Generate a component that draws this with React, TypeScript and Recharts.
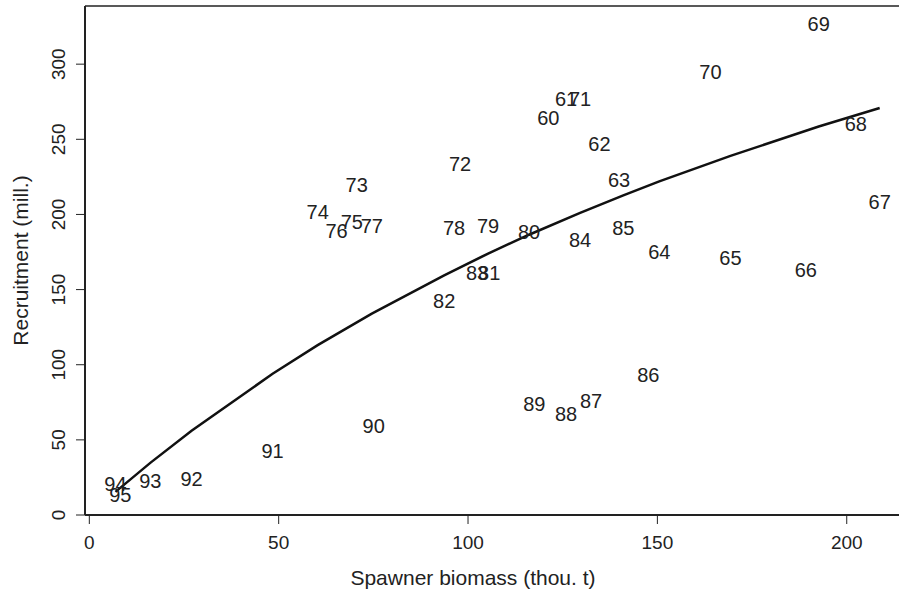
import { ScatterChart, Scatter, XAxis, YAxis, ReferenceLine } from "recharts";

const years = [
  60, 61, 62, 63, 64, 65, 66, 67, 68, 69, 70, 71, 72, 73, 74, 75, 76, 77,
  78, 79, 80, 81, 82, 83, 84, 85, 86, 87, 88, 89, 90, 91, 92, 93, 94, 95,
];
const spawner = [
  121.2, 125.9, 134.7, 139.9, 150.5, 169.3, 189.2, 208.7, 202.4, 192.6, 164, 129.6,
  97.9, 70.6, 60.3, 69.3, 65.3, 74.6, 96.3, 105.3, 116.1, 105.6, 93.7, 102.4,
  129.6, 141, 147.6, 132.5, 125.9, 117.5, 75.1, 48.4, 27, 16.1, 6.9, 8.2,
];
const recruitment = [
  264, 276.7, 246.7, 222.7, 175.3, 171.3, 162.7, 208, 260, 326.7, 294.7, 276.7,
  233.3, 219.3, 201.3, 194.7, 189.3, 192, 190.7, 192, 188, 160.7, 142.7, 160.7,
  183.3, 190.7, 93.3, 76, 67.3, 74, 59.3, 42.7, 24, 22.7, 20.7, 13.3,
];

const fitS = [6.9, 16.1, 27, 48.4, 60.3, 74.6, 93.7, 105.3, 116.1, 129.6, 141, 150.5, 169.3, 192.6, 208.7];
const fitR = [15.4, 34.7, 56, 94, 113, 134, 159.5, 174, 186.5, 201, 212.7, 222, 239, 258.5, 270.8];

const xTicks = [0, 50, 100, 150, 200];
const yTicks = [0, 50, 100, 150, 200, 250, 300];

const points = years.map((y, i) => ({ s: spawner[i], r: recruitment[i], year: y }));
const curve = fitS.map((s, i) => ({ s, r: fitR[i] }));

const FONT = "'Liberation Sans', Arial, Helvetica, sans-serif";
const INK = "#222";
const Y_MAX = 338.7;

const XTick = ({ x, y, payload }: any) => (
  <text x={x} y={y + 23} textAnchor="middle" fontSize={19} fontFamily={FONT} fill={INK}>
    {payload.value}
  </text>
);

const YTick = ({ x, y, payload }: any) => (
  <text
    x={x - 9}
    y={y}
    textAnchor="middle"
    fontSize={19}
    fontFamily={FONT}
    fill={INK}
    transform={`rotate(-90, ${x - 9}, ${y})`}
  >
    {payload.value}
  </text>
);

const YearLabel = (props: any) => (
  <text
    x={props.cx}
    y={props.cy + 7}
    textAnchor="middle"
    fontSize={20}
    fontFamily={FONT}
    fill={INK}
  >
    {props.payload.year}
  </text>
);

export default function App() {
  return (
    <div style={{ position: "absolute", left: 0, top: 0, background: "#fff" }}>
      <ScatterChart width={899} height={590} margin={{ top: 6, right: 0, left: 0, bottom: 0 }}>
        <XAxis
          type="number"
          dataKey="s"
          domain={[-1.14, 213.8]}
          ticks={xTicks}
          allowDataOverflow
          height={75}
          tickSize={9}
          tickMargin={2}
          tick={<XTick />}
          axisLine={{ stroke: INK, strokeWidth: 2 }}
          tickLine={{ stroke: INK, strokeWidth: 1 }}
          label={{
            content: ({ viewBox }: any) => (
              <text
                x={viewBox.x + 388}
                y={viewBox.y + 70}
                textAnchor="middle"
                fontSize={21}
                fontFamily={FONT}
                fill={INK}
              >
                Spawner biomass (thou. t)
              </text>
            ),
          }}
        />
        <YAxis
          type="number"
          dataKey="r"
          domain={[0, Y_MAX]}
          ticks={yTicks}
          allowDataOverflow
          width={85}
          tickSize={9}
          tickMargin={2}
          tick={<YTick />}
          axisLine={{ stroke: INK, strokeWidth: 2 }}
          tickLine={{ stroke: INK, strokeWidth: 1 }}
          label={{
            content: ({ viewBox }: any) => {
              const cx = 28;
              const cy = viewBox.y + viewBox.height / 2;
              return (
                <text
                  x={cx}
                  y={cy}
                  textAnchor="middle"
                  fontSize={21}
                  fontFamily={FONT}
                  fill={INK}
                  transform={`rotate(-90, ${cx}, ${cy})`}
                >
                  Recruitment (mill.)
                </text>
              );
            },
          }}
        />
        <ReferenceLine y={Y_MAX} stroke={INK} strokeWidth={1.5} />
        <Scatter
          data={curve}
          line={{ stroke: "#111", strokeWidth: 2.5 }}
          lineType="joint"
          shape={() => <g />}
          isAnimationActive={false}
        />
        <Scatter data={points} shape={<YearLabel />} isAnimationActive={false} />
      </ScatterChart>
    </div>
  );
}
